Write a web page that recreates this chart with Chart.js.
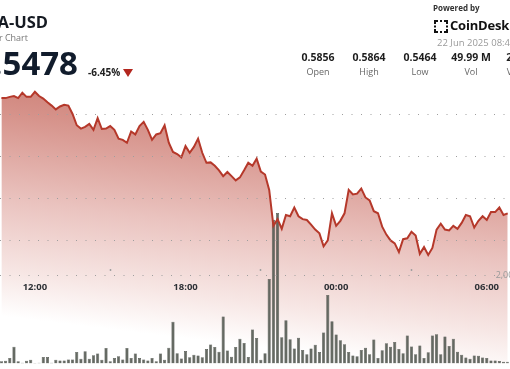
<!DOCTYPE html>
<html>
<head>
<meta charset="utf-8">
<title>ADA-USD</title>
<script src="https://cdn.jsdelivr.net/npm/chart.js@4.4.0/dist/chart.umd.min.js"></script>
<style>
  html, body { margin: 0; padding: 0; width: 510px; height: 369px; overflow: hidden; background: #fff; }
  body { font-family: 'Open Sans', sans-serif; position: relative; }
  #chart { position: absolute; left: 0; top: 0; }
  .abs { position: absolute; white-space: nowrap; line-height: 1; }
  #title { right: 462px; top: 14px; font-size: 16.5px; font-weight: 700; color: #151a22; }
  #subtitle { right: 482px; top: 33px; font-size: 9px; color: #777; }
  #price { right: 432px; top: 46px; font-size: 33px; font-weight: 700; color: #111c2c; }
  #change { left: 88px; top: 67px; font-size: 10px; font-weight: 700; color: #222; }
  #arrow { left: 123px; top: 69px; width: 0; height: 0; border-left: 5px solid transparent; border-right: 5px solid transparent; border-top: 8px solid #b3261e; }
  #powered { left: 433px; top: 4px; font-size: 8px; font-weight: 700; color: #333; }
  #logo { left: 434px; top: 19px; font-size: 13px; font-weight: 700; color: #111; letter-spacing: -0.2px; }
  #logo svg { vertical-align: top; margin-right: 2px; margin-top: 1px; }
  #date { left: 437px; top: 38px; font-size: 9.5px; color: #9a9a9a; }
  .stat { position: absolute; top: 52px; transform: translateX(-50%); text-align: center; white-space: nowrap; line-height: 1; }
  .stat b { display: block; font-size: 10.5px; font-weight: 700; color: #1d1d1d; }
  .stat span { display: block; margin-top: 4px; font-size: 9px; color: #666; }
</style>
</head>
<body>
<canvas id="chart" width="510" height="369"></canvas>

<div class="abs" id="title">ADA-USD</div>
<div class="abs" id="subtitle">24 Hour Chart</div>
<div class="abs" id="price">0.5478</div>
<div class="abs" id="change">-6.45%</div>
<div class="abs" id="arrow"></div>
<div class="abs" id="powered">Powered by</div>
<div class="abs" id="logo"><svg width="14" height="13" viewBox="0 0 14 13">
  <rect x="0" y="0" width="4" height="2" fill="#111"/><rect x="0" y="0" width="2" height="4" fill="#111"/>
  <rect x="10" y="0" width="4" height="2" fill="#111"/><rect x="12" y="0" width="2" height="4" fill="#111"/>
  <rect x="0" y="11" width="4" height="2" fill="#111"/><rect x="0" y="9" width="2" height="4" fill="#111"/>
  <rect x="10" y="11" width="4" height="2" fill="#111"/><rect x="12" y="9" width="2" height="4" fill="#111"/>
  <rect x="0" y="5.5" width="2" height="2" fill="#111"/><rect x="6" y="0" width="2" height="2" fill="#111"/>
  <rect x="6" y="11" width="2" height="2" fill="#111"/><rect x="12" y="5.5" width="2" height="2" fill="#111"/>
</svg>CoinDesk</div>
<div class="abs" id="date">22 Jun 2025 08:42 UTC</div>

<div class="stat" style="left:318px"><b>0.5856</b><span>Open</span></div>
<div class="stat" style="left:369px"><b>0.5864</b><span>High</span></div>
<div class="stat" style="left:420px"><b>0.5464</b><span>Low</span></div>
<div class="stat" style="left:471px"><b>49.99 M</b><span>Vol</span></div>
<div class="stat" style="left:526px"><b>27.99 M</b><span>Vol (USD)</span></div>

<script>
/* ADA-USD 24h chart — price area + 10 min volume bars */

// time axis, minutes after 12:00, one sample every 10 min starting 10:40
const timeLabels = ['12:00', '18:00', '00:00', '06:00'];
const tickMinutes = [0, 360, 720, 1080];
const firstMinute = -80;
const stepMinutes = 10;

const priceTicks = [0.55, 0.56, 0.57, 0.58];
const volumeTicks = [2000000];

const prices = [
  0.5840, 0.5840, 0.5843, 0.5845, 0.5840, 0.5853, 0.5843, 0.5843, 0.5855, 0.5845,
  0.5839, 0.5830, 0.5822, 0.5813, 0.5820, 0.5824, 0.5822, 0.5802, 0.5775, 0.5767,
  0.5771, 0.5778, 0.5764, 0.5792, 0.5766, 0.5767, 0.5773, 0.5764, 0.5743, 0.5740,
  0.5733, 0.5760, 0.5753, 0.5773, 0.5783, 0.5764, 0.5740, 0.5753, 0.5756, 0.5775,
  0.5733, 0.5711, 0.5706, 0.5698, 0.5725, 0.5709, 0.5723, 0.5743, 0.5709, 0.5685,
  0.5686, 0.5678, 0.5667, 0.5653, 0.5663, 0.5653, 0.5643, 0.5650, 0.5667, 0.5685,
  0.5678, 0.5695, 0.5664, 0.5657, 0.5620, 0.5534, 0.5550, 0.5527, 0.5560, 0.5557,
  0.5578, 0.5557, 0.5550, 0.5548, 0.5537, 0.5525, 0.5516, 0.5485, 0.5499, 0.5564,
  0.5534, 0.5546, 0.5564, 0.5620, 0.5609, 0.5611, 0.5623, 0.5602, 0.5595, 0.5569,
  0.5564, 0.5532, 0.5513, 0.5499, 0.5492, 0.5471, 0.5502, 0.5504, 0.5520, 0.5511,
  0.5467, 0.5483, 0.5464, 0.5481, 0.5525, 0.5539, 0.5525, 0.5523, 0.5534, 0.5527,
  0.5541, 0.5560, 0.5557, 0.5530, 0.5546, 0.5557, 0.5548, 0.5567, 0.5567, 0.5578,
  0.5560, 0.5564
];

const volumes = [
  51000, 66000, 125000, 381000, 51000, 22000, 66000, 88000, 11000, 22000,
  147000, 147000, 22000, 88000, 73000, 73000, 95000, 95000, 264000, 110000,
  279000, 110000, 191000, 227000, 88000, 352000, 51000, 125000, 169000, 95000,
  352000, 125000, 227000, 125000, 95000, 73000, 125000, 51000, 227000, 88000,
  359000, 946000, 235000, 117000, 286000, 143000, 198000, 183000, 143000, 330000,
  433000, 374000, 271000, 1067000, 297000, 154000, 374000, 565000, 469000, 147000,
  770000, 579000, 88000, 235000, 1914000, 3256000, 3410000, 594000, 983000, 550000,
  341000, 583000, 308000, 209000, 341000, 429000, 264000, 704000, 1555000, 957000,
  660000, 528000, 440000, 264000, 183000, 165000, 308000, 359000, 209000, 543000,
  125000, 301000, 462000, 381000, 491000, 330000, 235000, 638000, 389000, 213000,
  411000, 125000, 257000, 638000, 667000, 213000, 616000, 396000, 565000, 271000,
  198000, 139000, 110000, 183000, 176000, 139000, 125000, 73000, 73000, 59000,
  44000, 44000
];

document.addEventListener('DOMContentLoaded', () => {
  const ctx = document.getElementById('chart');
  const W = 510;
  const xMin = -83.4, xMax = 1132.4;

  // slanted red -> white fill under the price line
  function areaGradient(context) {
    const chart = context.chart;
    if (!chart.chartArea) return null;
    const g = chart.ctx.createLinearGradient(300, 60, 265, 348);
    g.addColorStop(0, 'rgb(194,106,95)');
    g.addColorStop(0.3, 'rgb(214,146,138)');
    g.addColorStop(0.6, 'rgb(234,195,191)');
    g.addColorStop(0.85, 'rgb(247,231,229)');
    g.addColorStop(1, 'rgb(255,255,255)');
    return g;
  }

  // volume label sits at the right edge, starting ~13px before it (cut off)
  const volFont = { family: 'Open Sans', size: 9 };
  const m = document.createElement('canvas').getContext('2d');
  m.font = volFont.size + 'px "' + volFont.family + '"';
  const volLabelW = m.measureText(volumeTicks[0].toLocaleString('en-US')).width;
  const volAxisAt = xMin + (W - 13 + volLabelW) * (xMax - xMin) / W;

  const at = (arr) => arr.map((v, i) => ({ x: firstMinute + i * stepMinutes, y: v }));
  const dots = [1, 8.5];

  new Chart(ctx, {
    data: {
      datasets: [
        {
          type: 'line',
          label: 'Price',
          data: at(prices),
          yAxisID: 'y',
          borderColor: '#b5382a',
          borderWidth: 2,
          pointRadius: 0,
          tension: 0,
          fill: 'start',
          backgroundColor: areaGradient,
          order: 0
        },
        {
          type: 'bar',
          label: 'Volume',
          data: at(volumes),
          yAxisID: 'yVol',
          backgroundColor: 'rgba(88,93,86,0.92)',
          borderColor: '#3a3f39',
          borderWidth: 0.5,
          barPercentage: 0.75,
          categoryPercentage: 1,
          order: 1
        }
      ]
    },
    options: {
      responsive: false,
      animation: false,
      events: [],
      layout: { padding: 0 },
      plugins: {
        legend: { display: false },
        tooltip: { enabled: false },
        filler: { drawTime: 'beforeDatasetsDraw' }
      },
      scales: {
        x: {
          type: 'linear',
          min: xMin,
          max: xMax,
          offset: false,
          position: { yVol: 2140000 },
          afterFit: (s) => { s.height = 0; },
          afterBuildTicks: (s) => { s.ticks = tickMinutes.map(v => ({ value: v })); },
          ticks: {
            autoSkip: false,
            maxRotation: 0,
            padding: 11,
            z: 1,
            color: '#2e3136',
            font: { family: 'Open Sans', size: 9.5, weight: 'bold' },
            callback: (v) => timeLabels[tickMinutes.indexOf(v)]
          },
          grid: { drawOnChartArea: false, drawTicks: true, tickLength: 2, tickWidth: 1.5, tickColor: '#a0a0a0', z: 1 },
          border: { display: false }
        },
        y: {
          min: 0.520395,
          max: 0.606209,
          position: 'left',
          afterFit: (s) => { s.width = 0; },
          afterBuildTicks: (s) => { s.ticks = priceTicks.map(v => ({ value: v })); },
          ticks: { display: false },
          grid: { color: '#9e9e9e', lineWidth: 1, drawTicks: false, z: 1 },
          border: { display: false, dash: dots }
        },
        yVol: {
          min: 0,
          max: 8109890,
          position: { x: volAxisAt },
          afterFit: (s) => { s.width = 0; },
          afterBuildTicks: (s) => { s.ticks = volumeTicks.map(v => ({ value: v })); },
          ticks: {
            padding: 0,
            z: 1,
            color: '#9a9a9a',
            font: volFont,
            callback: (v) => v.toLocaleString('en-US')
          },
          grid: { color: '#9e9e9e', lineWidth: 1, drawTicks: false, z: 1 },
          border: { display: false, dash: dots }
        }
      }
    }
  });
});
</script>
</body>
</html>
